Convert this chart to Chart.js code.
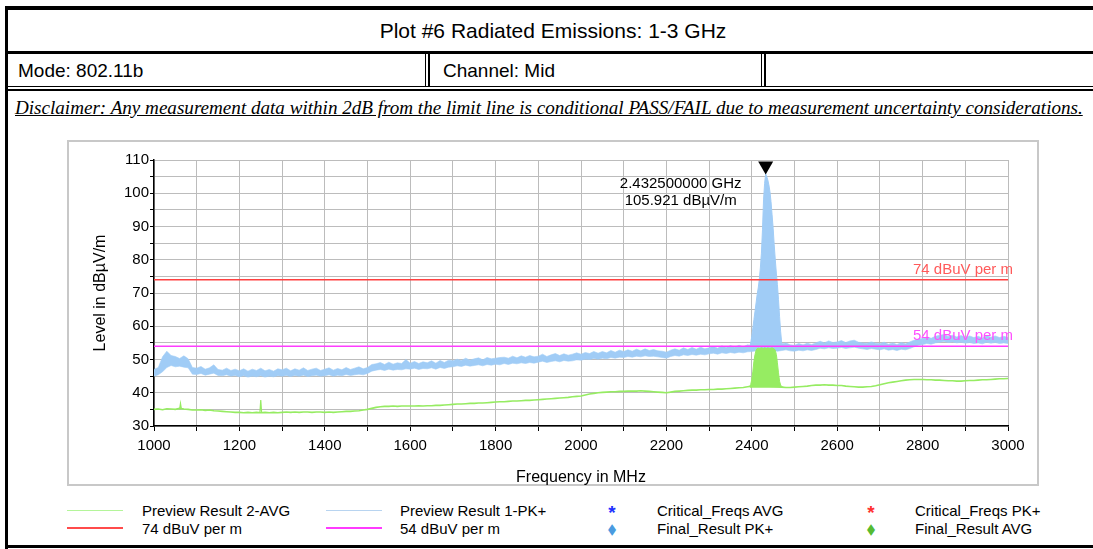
<!DOCTYPE html>
<html>
<head>
<meta charset="utf-8">
<script src="https://cdn.jsdelivr.net/npm/chart.js"></script>
<style>
  html, body { margin: 0; padding: 0; background: #fff; }
  body { width: 1093px; height: 549px; position: relative; overflow: hidden;
         font-family: "Liberation Sans", Arial, sans-serif; color: #000; }
  .bar { position: absolute; background: #000; }
  .txt { position: absolute; white-space: nowrap; }
  #title { left: 5px; width: 1096px; top: 10px; height: 41px; line-height: 41px; text-align: center; font-size: 21px; }
  #mode { left: 18px; top: 56px; line-height: 30px; font-size: 19px; }
  #channel { left: 443px; top: 56px; line-height: 30px; font-size: 19px; }
  #disclaimer { left: 15px; top: 97px; font-family: "Liberation Serif", "Times New Roman", serif;
                font-style: italic; font-size: 18px; text-decoration: underline; line-height: 22px; }
  #plotFrame { position: absolute; left: 67px; top: 140px; width: 972px; height: 346px;
               box-sizing: border-box; border: 2px solid #c8c8c8; }
  #myChart { position: absolute; left: 68px; top: 142px; }
  .leg { position: absolute; font-size: 15px; line-height: 18px; white-space: nowrap; }
  .sw { position: absolute; width: 56px; }
  .mk { position: absolute; font-size: 15px; line-height: 18px; text-align: center; width: 12px; }
  .ast { font-size: 19px; font-weight: bold; }
</style>
</head>
<body>
  <!-- report table frame -->
  <div class="bar" style="left:5px;top:6px;width:1100px;height:4px"></div>
  <div class="bar" style="left:5px;top:6px;width:3px;height:543px"></div>
  <div class="bar" style="left:5px;top:51px;width:1100px;height:3px"></div>
  <div class="bar" style="left:5px;top:86px;width:1100px;height:1px"></div>
  <div class="bar" style="left:5px;top:89px;width:1100px;height:2px"></div>
  <div class="bar" style="left:425px;top:54px;width:1px;height:32px"></div>
  <div class="bar" style="left:428px;top:54px;width:2px;height:32px"></div>
  <div class="bar" style="left:761px;top:54px;width:1px;height:32px"></div>
  <div class="bar" style="left:764px;top:54px;width:2px;height:32px"></div>
  <div class="bar" style="left:5px;top:545px;width:1100px;height:3px"></div>

  <div id="title" class="txt">Plot #6 Radiated Emissions: 1-3 GHz</div>
  <div id="mode" class="txt">Mode: 802.11b</div>
  <div id="channel" class="txt">Channel: Mid</div>
  <div id="disclaimer" class="txt">Disclaimer: Any measurement data within 2dB from the limit line is conditional PASS/FAIL due to measurement uncertainty considerations.</div>

  <div id="plotFrame"></div>
  <canvas id="myChart" width="970" height="350"></canvas>

  <!-- legend -->
  <div class="sw" style="left:67px;top:510px;height:1px;background:#b4f59a"></div>
  <div class="leg" style="left:142px;top:502px">Preview Result 2-AVG</div>
  <div class="sw" style="left:67px;top:527px;height:2px;background:#ff4b4b"></div>
  <div class="leg" style="left:142px;top:520px">74 dBuV per m</div>

  <div class="sw" style="left:326px;top:510px;height:1px;background:#b8d4f0"></div>
  <div class="leg" style="left:400px;top:502px">Preview Result 1-PK+</div>
  <div class="sw" style="left:326px;top:527px;height:2px;background:#ff3bff"></div>
  <div class="leg" style="left:400px;top:520px">54 dBuV per m</div>

  <div class="mk ast" style="left:606px;top:504px;color:#2030ff">*</div>
  <div class="leg" style="left:657px;top:502px">Critical_Freqs AVG</div>
  <div class="mk" style="left:606px;top:520px;color:#4a9be0;transform:scaleX(0.7)">&#9670;</div>
  <div class="leg" style="left:657px;top:520px">Final_Result PK+</div>

  <div class="mk ast" style="left:865px;top:504px;color:#ff3030">*</div>
  <div class="leg" style="left:915px;top:502px">Critical_Freqs PK+</div>
  <div class="mk" style="left:865px;top:520px;color:#55bb33;transform:scaleX(0.7)">&#9670;</div>
  <div class="leg" style="left:915px;top:520px">Final_Result AVG</div>

<script>
// sweep grid for the preview traces (MHz)
const sweepStart = 1000;
const sweepStep = 10;

// Preview Result 1-PK+ : upper / lower edge of the noisy trace, one value per 10 MHz
const pkHigh = [
  47.0, 47.6, 50.8, 52.5, 51.2, 50.9, 50.3, 51.1, 50.2, 47.6,
  47.4, 47.9, 47.1, 47.5, 48.4, 47.0, 46.8, 47.4, 46.7, 47.1,
  46.6, 47.2, 46.5, 47.1, 46.7, 47.4, 46.6, 47.0, 46.5, 47.2,
  46.9, 47.4, 46.6, 47.2, 46.8, 47.5, 46.7, 47.1, 47.4, 46.7,
  47.1, 47.5, 46.8, 47.3, 46.9, 47.6, 47.0, 47.4, 47.8, 47.2,
  47.6, 48.5, 48.7, 49.1, 48.5, 49.2, 48.6, 49.0, 48.8, 50.0,
  48.9, 49.4, 48.8, 49.3, 49.0, 49.6, 48.9, 49.7, 49.1, 49.8,
  49.6, 50.1, 49.7, 50.4, 49.8, 50.2, 50.5, 49.9, 50.6, 50.2,
  50.4, 50.6, 50.7, 50.4, 51.0, 50.5, 51.1, 50.7, 51.2, 50.8,
  51.0, 51.6, 50.9, 51.4, 51.8, 51.2, 51.7, 51.3, 51.6, 52.0,
  51.6, 52.1, 51.8, 52.4, 51.9, 52.4, 52.0, 52.7, 52.2, 52.8,
  52.4, 52.9, 52.5, 53.1, 52.6, 53.2, 52.7, 53.0, 52.6, 52.5,
  52.2, 52.8, 53.2, 52.8, 53.5, 53.0, 53.6, 53.1, 53.7, 53.2,
  53.5, 53.9, 53.4, 54.1, 53.6, 54.2, 53.7, 54.3, 53.8, 54.4,
  54.2, 54.6, 54.3, 54.7, 54.4, 54.8, 54.3, 54.7, 55.0, 54.4,
  54.3, 54.8, 54.4, 54.9, 54.5, 55.0, 55.5, 55.0, 55.6, 55.1,
  55.3, 55.7, 55.1, 55.6, 55.8, 55.2, 55.0, 54.9, 55.3, 54.9,
  54.8, 55.2, 54.6, 55.0, 54.5, 55.1, 54.7, 55.3, 55.8, 56.2,
  56.3, 56.8, 56.4, 57.0, 57.3, 57.5, 56.9, 57.3, 56.8, 57.2,
  56.7, 57.1, 56.6, 57.0, 56.5, 57.2, 56.7, 57.1, 56.6, 57.0,
  56.6
];
const pkLow = [
  45.0, 45.4, 46.3, 47.6, 48.2, 47.8, 48.0, 47.7, 47.5, 45.6,
  45.5, 45.8, 45.3, 45.6, 45.9, 45.2, 45.1, 45.4, 45.0, 45.2,
  44.8, 45.1, 44.7, 45.0, 44.8, 45.1, 44.7, 45.0, 44.8, 45.1,
  45.0, 45.2, 44.9, 45.2, 45.0, 45.3, 44.9, 45.1, 45.3, 45.0,
  45.1, 45.4, 45.0, 45.3, 45.1, 45.5, 45.2, 45.4, 45.6, 45.4,
  45.8, 46.5, 46.8, 47.0, 46.7, 47.1, 46.8, 47.0, 46.9, 47.2,
  47.1, 47.4, 47.0, 47.3, 47.2, 47.5, 47.1, 47.6, 47.3, 47.7,
  47.8, 48.1, 47.9, 48.3, 48.0, 48.2, 48.4, 48.1, 48.5, 48.3,
  48.6, 48.4, 48.8, 48.5, 48.9, 48.7, 49.0, 48.8, 49.1, 48.9,
  49.2, 49.5, 49.1, 49.4, 49.6, 49.3, 49.7, 49.5, 49.6, 49.9,
  49.8, 50.1, 50.0, 50.3, 50.1, 50.4, 50.2, 50.6, 50.4, 50.7,
  50.6, 50.9, 50.7, 51.0, 50.8, 51.1, 50.9, 51.0, 50.8, 50.6,
  50.4, 50.9, 51.2, 51.0, 51.4, 51.2, 51.5, 51.3, 51.6, 51.4,
  51.7, 51.9, 51.6, 52.0, 51.8, 52.1, 51.9, 52.2, 52.0, 52.3,
  52.4, 52.6, 52.5, 52.7, 52.6, 52.8, 52.5, 52.7, 52.9, 52.6,
  52.5, 52.8, 52.6, 52.9, 52.7, 53.0, 53.4, 53.2, 53.5, 53.3,
  53.4, 53.6, 53.3, 53.5, 53.7, 53.4, 53.2, 53.0, 53.3, 53.1,
  52.9, 53.2, 52.8, 53.0, 52.7, 53.1, 52.9, 53.3, 53.8, 54.3,
  54.5, 54.8, 54.6, 55.0, 55.2, 55.4, 55.1, 55.3, 55.0, 55.2,
  54.9, 55.1, 54.8, 55.0, 54.7, 55.2, 54.9, 55.1, 54.8, 55.0,
  54.8
];

// Preview Result 2-AVG, one value per 10 MHz
const avgLevel = [
  35.0, 35.1, 34.9, 35.2, 35.1, 35.0, 35.3, 35.1, 35.0, 34.8,
  34.8, 34.9, 34.7, 34.8, 34.6, 34.5, 34.4, 34.3, 34.2, 34.1,
  34.1, 34.0, 34.1, 34.0, 34.1, 34.0, 34.1, 34.0, 34.1, 34.0,
  34.1, 34.2, 34.1, 34.2, 34.1, 34.2, 34.2, 34.1, 34.2, 34.2,
  34.1, 34.2, 34.1, 34.2, 34.3, 34.4, 34.4, 34.5, 34.6, 34.8,
  35.0, 35.3, 35.6, 35.8, 35.9, 35.9, 36.0, 35.9, 36.0, 36.0,
  36.0, 36.0, 36.1, 36.0, 36.1, 36.1, 36.2, 36.2, 36.3, 36.4,
  36.5, 36.6, 36.6, 36.7, 36.8, 36.8, 36.9, 36.9, 37.0, 37.1,
  37.2, 37.3, 37.3, 37.4, 37.5, 37.5, 37.6, 37.7, 37.7, 37.8,
  37.9, 38.0, 38.1, 38.2, 38.3, 38.4, 38.5, 38.6, 38.8, 38.9,
  39.0, 39.3, 39.6, 39.8, 40.0, 40.1, 40.2, 40.3, 40.3, 40.4,
  40.4, 40.5, 40.5, 40.5, 40.6, 40.5, 40.4, 40.3, 40.2, 40.1,
  40.0, 40.2, 40.4, 40.5, 40.6, 40.7, 40.8, 40.8, 40.9, 40.9,
  41.0, 41.0, 41.1, 41.1, 41.2, 41.3, 41.4, 41.5, 41.6, 41.8,
  42.0, 42.0, 42.0, 42.0, 42.0, 41.9, 41.8, 41.7, 41.6, 41.6,
  41.7, 41.8, 41.9, 42.0, 42.2, 42.3, 42.3, 42.4, 42.3, 42.3,
  42.2, 42.2, 42.0, 41.9, 41.8, 41.7, 41.7, 41.8, 41.9, 42.1,
  42.4, 42.7, 43.0, 43.2, 43.4, 43.6, 43.8, 43.9, 44.0, 44.0,
  44.0, 43.9, 43.9, 43.8, 43.8, 43.7, 43.6, 43.6, 43.5, 43.5,
  43.6, 43.7, 43.7, 43.8, 43.9, 43.9, 44.0, 44.1, 44.2, 44.2,
  44.3
];

// narrow AVG spikes (null breaks the line between them)
const avgSpikeFreq  = [1060, 1062, 1064, 1156, 1248, 1250, 1252];
const avgSpikeLevel = [35.0, 36.8, 35.2, null, 34.0, 37.8, 34.1];

// carrier region, finer steps
const peakFreq = [2395, 2397.5, 2400, 2402.5, 2405, 2407.5, 2410, 2412.5, 2415, 2417.5,
                  2420, 2422.5, 2425, 2427.5, 2430, 2432.5, 2435, 2437.5, 2440, 2442.5,
                  2445, 2447.5, 2450, 2452.5, 2455, 2457.5, 2460, 2462.5, 2465, 2467.5,
                  2470, 2472.5, 2475];
const peakPk = [53.5, 55, 57, 59.5, 62, 64.5, 67, 69.5, 71.5, 74,
                77.5, 82, 89, 98, 103, 105.9, 105, 104, 102.5, 100.5,
                97.5, 93.5, 89.5, 84.5, 80, 76, 72.5, 68, 63, 58.5,
                55, 54, 53.5];
const peakAvg = [41.8, 42.5, 44, 46.5, 49.5, 51.5, 52.8, 53.3, 53.4, 53.3,
                 53.4, 53.5, 53.4, 53.3, 53.5, 53.4, 53.3, 53.5, 53.4, 53.3,
                 53.4, 53.5, 53.3, 53.2, 52.8, 51.5, 49, 46, 43.5, 42.3,
                 41.9, 41.7, 41.6];

// limit lines
const limitPeak = 74;
const limitAvg = 54;

// marker
const markerFreq = 2432.5;
const markerLevel = 105.921;
const markerFreqLabel = '2.432500000 GHz';
const markerLevelLabel = '105.921 dBµV/m';

const pkColor = '#a0ccf6';
const avgColor = '#96ec62';

const mainX = pkHigh.map((_, i) => sweepStart + i * sweepStep);
const toPts = (xs, ys) => xs.map((x, i) => ({ x: x, y: ys[i] }));

const markerPlugin = {
  id: 'markerPlugin',
  afterDatasetsDraw(chart) {
    const { ctx, chartArea } = chart;
    const xs = chart.scales.x, ys = chart.scales.y;
    const px = xs.getPixelForValue(markerFreq);
    const py = ys.getPixelForValue(markerLevel);
    ctx.save();
    ctx.fillStyle = '#000';
    ctx.beginPath();
    ctx.moveTo(px - 7.5, py - 12);
    ctx.lineTo(px + 7.5, py - 12);
    ctx.lineTo(px, py + 1);
    ctx.closePath();
    ctx.fill();
    ctx.font = '15px "Liberation Sans", Arial';
    ctx.textAlign = 'center';
    ctx.textBaseline = 'middle';
    ctx.fillText(markerFreqLabel, px - 85, py + 10);
    ctx.fillText(markerLevelLabel, px - 85, py + 27);

    ctx.textAlign = 'right';
    ctx.fillStyle = '#ff5a5a';
    ctx.fillText(limitPeak + ' dBuV per m', chartArea.right + 5, ys.getPixelForValue(limitPeak) - 10);
    ctx.fillStyle = '#ff50ff';
    ctx.fillText(limitAvg + ' dBuV per m', chartArea.right + 5, ys.getPixelForValue(limitAvg) - 10);
    ctx.restore();
  }
};

const ctx = document.getElementById('myChart').getContext('2d');

const config = {
  type: 'line',
  data: {
    datasets: [
      { label: '74 dBuV per m', data: toPts([1000, 3000], [limitPeak, limitPeak]),
        borderColor: '#ff4040', borderWidth: 1.6, order: 0 },
      { label: '54 dBuV per m', data: toPts([1000, 3000], [limitAvg, limitAvg]),
        borderColor: '#ff3cff', borderWidth: 1.6, order: 1 },
      { label: 'avg spikes', data: toPts(avgSpikeFreq, avgSpikeLevel),
        borderColor: avgColor, borderWidth: 1.2, spanGaps: false, order: 2 },
      { label: 'avg carrier', data: toPts(peakFreq, peakAvg),
        borderColor: avgColor, backgroundColor: avgColor, borderWidth: 1, fill: { value: 41.5 }, order: 3 },
      { label: 'Preview Result 2-AVG', data: toPts(mainX, avgLevel),
        borderColor: avgColor, borderWidth: 1.6, order: 4 },
      { label: 'pk carrier', data: toPts(peakFreq, peakPk),
        borderColor: pkColor, backgroundColor: pkColor, borderWidth: 1, fill: { value: 53 }, order: 5 },
      { label: 'Preview Result 1-PK+', data: toPts(mainX, pkHigh),
        borderColor: pkColor, backgroundColor: pkColor, borderWidth: 0.6, fill: '+1', order: 6 },
      { label: 'pk low', data: toPts(mainX, pkLow),
        borderColor: pkColor, borderWidth: 0.6, order: 7 }
    ]
  },
  options: {
    responsive: false,
    animation: false,
    layout: { padding: { top: 18, right: 30, left: 0, bottom: 0 } },
    elements: { point: { radius: 0 }, line: { tension: 0 } },
    scales: {
      x: {
        type: 'linear', min: 1000, max: 3000,
        afterFit: function(scale) { scale.height = 66; },
        ticks: {
          stepSize: 100, autoSkip: false, maxRotation: 0, padding: 6, color: '#000',
          font: { family: '"Liberation Sans", Arial', size: 15 },
          callback: function(value) { return value % 200 === 0 ? value : ''; }
        },
        grid: { color: '#bcbcbc', lineWidth: 1, tickColor: '#000', tickLength: 5 },
        border: { color: '#000', width: 1.5 },
        title: { display: true, text: 'Frequency in MHz', color: '#000',
                 font: { family: '"Liberation Sans", Arial', size: 16 }, padding: { top: 0, bottom: 5 } }
      },
      y: {
        min: 30, max: 110,
        afterFit: function(scale) { scale.width = 86; },
        ticks: {
          stepSize: 5, autoSkip: false, padding: 1, color: '#000',
          font: { family: '"Liberation Sans", Arial', size: 15 },
          callback: function(value) { return value % 10 === 0 ? value : ''; }
        },
        grid: { color: '#bcbcbc', lineWidth: 1, tickColor: '#000', tickLength: 4 },
        border: { color: '#000', width: 1.5 },
        title: { display: true, text: 'Level in dBµV/m', color: '#000',
                 font: { family: '"Liberation Sans", Arial', size: 16 }, padding: { top: 23, bottom: 0 } }
      }
    },
    plugins: {
      legend: { display: false },
      tooltip: { enabled: false }
    }
  },
  plugins: [markerPlugin]
};

const myChart = new Chart(ctx, config);

// stretch the disclaimer to the width of the form
const disc = document.getElementById('disclaimer');
const discWidth = disc.getBoundingClientRect().width;
disc.style.fontSize = (18 * 1068 / discWidth).toFixed(2) + 'px';
</script>
</body>
</html>
